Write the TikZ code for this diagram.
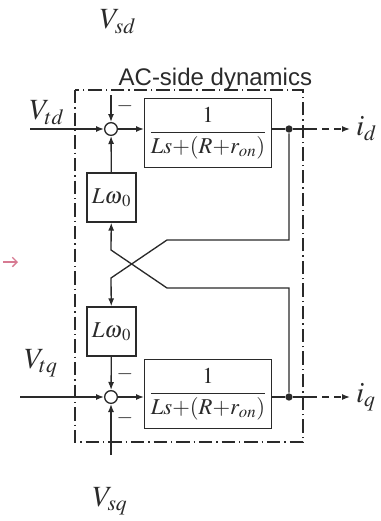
\documentclass[tikz,border=0pt]{standalone}
\usepackage{mathptmx}
\usepackage{fontspec}
\setmainfont{Liberation Serif}
\newfontfamily\labelsans{Liberation Sans}
\usetikzlibrary{arrows.meta,positioning}
\definecolor{BlockLine}{HTML}{2A2A2A}
\definecolor{StrayRed}{HTML}{D77A92}

\begin{document}
\begin{tikzpicture}[x=0.75pt,y=-0.75pt,line width=1pt,color=BlockLine]
    \tikzset{sumnode/.style={circle,draw,minimum size=9.5pt,inner sep=0pt},
      block/.style={draw,minimum width=95pt,minimum height=52pt,inner sep=0pt,font=\fontsize{17}{20}\selectfont},
      gain/.style={draw,minimum size=36.75pt,inner sep=0pt,font=\fontsize{17}{20}\selectfont},
      sig/.style={font=\fontsize{22}{26}\selectfont,inner sep=1pt},
      minus/.style={font=\fontsize{16}{18}\selectfont,inner sep=0pt},
      tip/.style={-{Latex[length=6pt,width=4.5pt]}},
      junction/.style={circle,fill,inner sep=0pt,minimum size=5.5pt},
      acbox/.style={dash pattern=on 10pt off 3pt on 1pt off 3pt,line width=0.8pt}}
    \useasboundingbox (0,0) rectangle (381,521);
    % AC-side box
    \coordinate (boxnw) at (75,90);
    \coordinate (boxse) at (303,442);
    \draw[acbox] (boxnw) rectangle (boxse);
    \node[font=\labelsans\fontsize{18}{20}\selectfont,anchor=west,inner sep=0pt] (aclbl) at (118,79) {AC-side dynamics};
    % d axis
    \node[sumnode] (sumd) at (111,129) {};
    \node[block] (Gd) at (208,133) {$\displaystyle\frac{1}{Ls{+}(R{+}r_{on})}$};
    \node[junction] (dotd) at (289,129) {};
    \node[gain] (Lwd) at (111.5,197.5) {$L\omega_{\,0}$};
    \node[sig] (Vsd) at (118,22) {$V_{sd}$};
    \node[sig] (Vtd) at (47,113) {$V_{td}$};
    \coordinate (topd) at (111,95);
    \coordinate (ind) at (30,129);
    \coordinate (outd) at (310,129);
    \coordinate (tipd) at (350,129);
    \node[sig,right=3pt of tipd] (id) {$i_d$};
    \node[minus] (md) at (125,106) {$-$};
    \draw[tip] (ind) -- (sumd);
    \draw[tip] (topd) -- (sumd);
    \draw[tip] (Lwd) -- (sumd);
    \draw[tip] (sumd) -- (Gd.west |- sumd);
    \draw (Gd.east |- dotd) -- (dotd) -- (outd);
    \draw[tip,dash pattern=on 5pt off 4pt] (outd) -- (tipd);
    % q axis
    \node[sumnode] (sumq) at (111,397) {};
    \node[block] (Gq) at (208,394) {$\displaystyle\frac{1}{Ls{+}(R{+}r_{on})}$};
    \node[junction] (dotq) at (289,397) {};
    \node[gain] (Lwq) at (111.5,331.5) {$L\omega_{\,0}$};
    \node[sig] (Vsq) at (110,501) {$V_{sq}$};
    \node[sig] (Vtq) at (41,363) {$V_{tq}$};
    \coordinate (botq) at (111,455);
    \coordinate (inq) at (20,397);
    \coordinate (outq) at (310,397);
    \coordinate (tipq) at (350,397);
    \node[sig,right=3pt of tipq] (iq) {$i_q$};
    \node[minus] (mq1) at (125,374) {$-$};
    \node[minus] (mq2) at (125,418) {$-$};
    \draw[tip] (inq) -- (sumq);
    \draw[tip] (botq) -- (sumq);
    \draw[tip] (Lwq) -- (sumq);
    \draw[tip] (sumq) -- (Gq.west |- sumq);
    \draw (Gq.east |- dotq) -- (dotq) -- (outq);
    \draw[tip,dash pattern=on 5pt off 4pt] (outq) -- (tipq);
    % cross coupling
    \coordinate (xd1) at (167,240);
    \coordinate (xd2) at (111,278);
    \coordinate (xq1) at (167,288);
    \coordinate (xq2) at (111,250);
    \draw[tip] (dotd) |- (xd1) -- (xd2) -- (Lwq);
    \draw[tip] (dotq) |- (xq1) -- (xq2) -- (Lwd);
    % stray mark
    \coordinate (strayA) at (3,262);
    \coordinate (strayB) at (18,262);
    \draw[StrayRed,line width=1pt,-{Straight Barb[length=3.5pt]}] (strayA) -- (strayB);
  \end{tikzpicture}
\end{document}
